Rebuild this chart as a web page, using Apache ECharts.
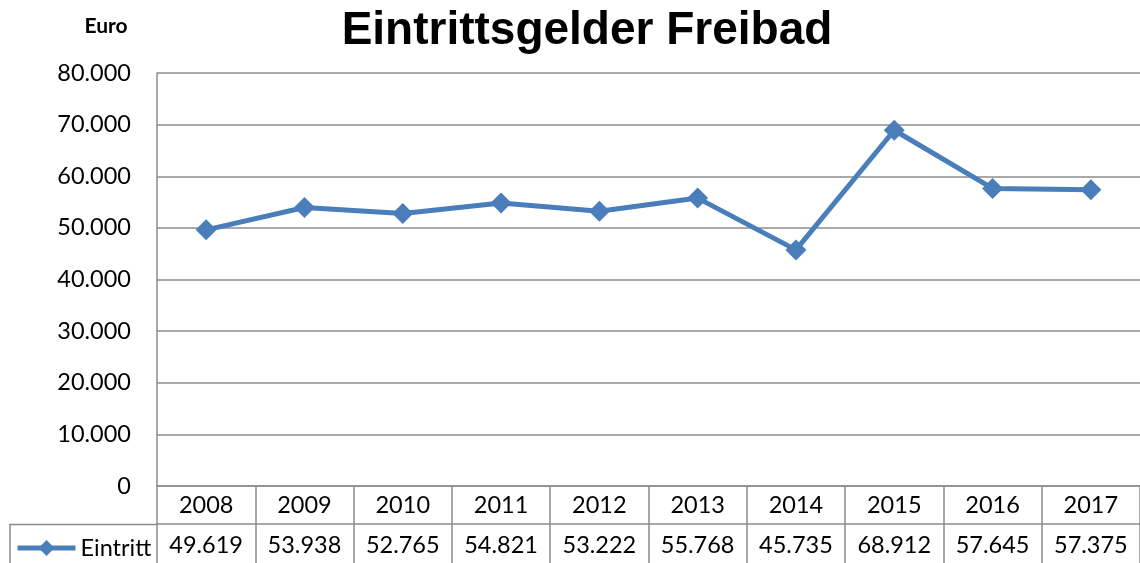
<!DOCTYPE html>
<html>
<head>
<meta charset="utf-8">
<script src="https://cdn.jsdelivr.net/npm/echarts@6/dist/echarts.min.js"></script>
<style>
  html, body { margin: 0; padding: 0; background: #ffffff; }
  #chart { width: 1140px; height: 563px; }
</style>
</head>
<body>
<div id="chart"></div>
<script>
  // Eintrittsgelder Freibad, Euro pro Jahr
  var years = ["2008", "2009", "2010", "2011", "2012", "2013", "2014", "2015", "2016", "2017"];
  var eintritt = [49619, 53938, 52765, 54821, 53222, 55768, 45735, 68912, 57645, 57375];
  var yTicks = [0, 10000, 20000, 30000, 40000, 50000, 60000, 70000, 80000];

  var lineColor = "#4A7EBB";
  var borderColor = "#8c8c8c";
  var font = "Lato, 'Open Sans', sans-serif";
  var fs = 23.5;

  // deutsches Zahlenformat: 53.938
  function fmt(v) {
    return String(Math.round(v)).replace(/\B(?=(\d{3})+(?!\d))/g, ".");
  }

  var myChart = echarts.init(document.getElementById("chart"));
  myChart.setOption({
    animation: false,
    backgroundColor: "#ffffff",
    title: [
      {
        text: "Eintrittsgelder Freibad",
        left: 582,
        textAlign: "center",
        top: 3,
        textStyle: {
          fontFamily: "'Liberation Sans', Arial, sans-serif",
          fontWeight: "bold",
          fontSize: 46,
          color: "#000000",
        },
      },
      {
        text: "Euro",
        left: 101,
        textAlign: "center",
        top: 11,
        textStyle: {
          fontFamily: font,
          fontWeight: "bold",
          fontSize: 21,
          color: "#000000",
        },
      },
    ],
    legend: {
      left: 10,
      top: 531,
      itemWidth: 58,
      itemHeight: 20,
      itemGap: 4,
      lineStyle: { width: 5 },
      textStyle: { fontFamily: font, fontSize: fs, color: "#000000" },
      data: ["Eintritt"],
    },
    grid: {
      left: 157,
      top: 73,
      width: 987,
      height: 413,
    },
    xAxis: [
      {
        type: "category",
        data: years,
        position: "bottom",
        boundaryGap: true,
        axisLine: { lineStyle: { color: borderColor, width: 1.5 } },
        axisTick: {
          show: true,
          interval: 0,
          length: 80,
          lineStyle: { color: borderColor, width: 1.5 },
        },
        axisLabel: {
          interval: 0,
          margin: 7,
          fontFamily: font,
          fontSize: fs,
          color: "#000000",
        },
        splitLine: { show: false },
      },
      {
        type: "category",
        data: years,
        position: "bottom",
        offset: 38,
        boundaryGap: true,
        axisLine: { lineStyle: { color: borderColor, width: 1.5 } },
        axisTick: { show: false },
        axisLabel: {
          interval: 0,
          margin: 9,
          fontFamily: font,
          fontSize: fs,
          color: "#000000",
          formatter: function (v, i) {
            return fmt(eintritt[i]);
          },
        },
      },
    ],
    yAxis: {
      type: "value",
      min: yTicks[0],
      max: yTicks[yTicks.length - 1],
      interval: yTicks[1] - yTicks[0],
      axisLine: { show: true, lineStyle: { color: borderColor, width: 1.5 } },
      axisTick: { show: false },
      axisLabel: {
        margin: 26,
        fontFamily: font,
        fontSize: fs,
        color: "#000000",
        formatter: function (v) {
          return fmt(v);
        },
      },
      splitLine: { lineStyle: { color: borderColor, width: 1.5 } },
    },
    series: [
      {
        name: "Eintritt",
        type: "line",
        data: eintritt,
        symbol: "diamond",
        symbolSize: 21,
        itemStyle: { color: lineColor },
        lineStyle: { color: lineColor, width: 5 },
      },
    ],
    graphic: [
      {
        // Rahmen der Legendenzelle in der Datentabelle
        type: "polyline",
        shape: { points: [[10, 563], [10, 524.5], [157, 524.5]] },
        style: { stroke: borderColor, lineWidth: 1.5, fill: null },
      },
    ],
  });
</script>
</body>
</html>
